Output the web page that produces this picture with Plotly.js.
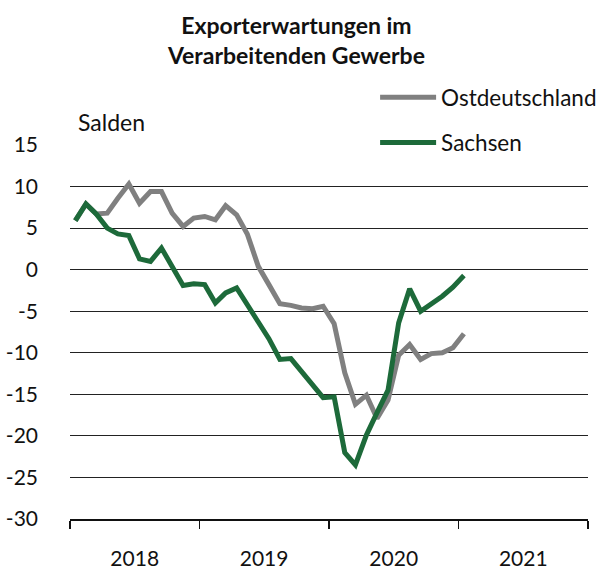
<!DOCTYPE html>
<html>
<head>
<meta charset="utf-8">
<script src="https://cdn.plot.ly/plotly-3.0.1.min.js"></script>
<style>
  html, body { margin: 0; padding: 0; background: #fff; }
  #chart { width: 605px; height: 569px; }
</style>
</head>
<body>
<div id="chart"></div>
<script>
// Monthly survey results (balances), Jan 2018 – Jan 2021
const months = [
  '2018-01-16','2018-02-15','2018-03-16','2018-04-16','2018-05-16','2018-06-16',
  '2018-07-16','2018-08-16','2018-09-16','2018-10-16','2018-11-16','2018-12-16',
  '2019-01-16','2019-02-15','2019-03-16','2019-04-16','2019-05-16','2019-06-16',
  '2019-07-16','2019-08-16','2019-09-16','2019-10-16','2019-11-16','2019-12-16',
  '2020-01-16','2020-02-15','2020-03-16','2020-04-16','2020-05-16','2020-06-16',
  '2020-07-16','2020-08-16','2020-09-16','2020-10-16','2020-11-16','2020-12-16',
  '2021-01-16'
];
const ostdeutschland = [
  5.9, 7.9, 6.7, 6.8, 8.6, 10.3, 8.0, 9.4, 9.4, 6.8, 5.2, 6.2,
  6.4, 6.0, 7.7, 6.6, 4.3, 0.4, -1.8, -4.1, -4.3, -4.6, -4.7, -4.4,
  -6.5, -12.4, -16.2, -15.1, -17.9, -15.7, -10.3, -9.0, -10.8, -10.1, -10.0, -9.4,
  -7.7
];
const sachsen = [
  5.9, 7.9, 6.7, 5.0, 4.3, 4.1, 1.3, 1.0, 2.6, 0.5, -1.9, -1.7,
  -1.8, -4.0, -2.8, -2.2, -4.1, -6.3, -8.3, -10.8, -10.7, -12.2, -13.7, -15.4,
  -15.3, -22.0, -23.5, -19.9, -17.2, -14.5, -6.4, -2.3, -5.0, -4.1, -3.2, -2.1,
  -0.7
];
const seriesNames = ['Ostdeutschland', 'Sachsen'];
const yTicks = [15, 10, 5, 0, -5, -10, -15, -20, -25, -30];
const yTickText = ['15', '10', '5', '0', '-5', '-10', '-15', '-20', '-25', '-30'];
const xRange = ['2018-01-01', '2022-01-01'];

const FONT = 'Lato, "Noto Sans", sans-serif';

const traces = [
  {
    x: months, y: ostdeutschland, name: seriesNames[0], type: 'scatter', mode: 'lines',
    line: { color: '#808080', width: 5 }, legendgroup: 'a'
  },
  {
    x: months, y: sachsen, name: seriesNames[1], type: 'scatter', mode: 'lines',
    line: { color: '#1d6a3a', width: 5 }, legendgroup: 'b'
  }
];

const layout = {
  width: 605, height: 569,
  margin: { l: 70, r: 17, t: 145, b: 50, autoexpand: false },
  paper_bgcolor: '#fff', plot_bgcolor: '#fff',
  font: { family: FONT, size: 21, color: '#111' },
  title: {
    text: '<b>Exporterwartungen im<br>Verarbeitenden Gewerbe</b>',
    font: { family: FONT, size: 23, color: '#111' },
    x: 0.49, xref: 'container', xanchor: 'center',
    y: 0.94, yref: 'container', yanchor: 'top'
  },
  xaxis: {
    type: 'date', range: xRange,
    tick0: '2018-01-01', dtick: 'M12', tickformat: '%Y',
    ticklabelmode: 'period',
    ticks: 'outside', ticklen: 8, tickwidth: 1.5, tickcolor: '#111',
    showline: true, linecolor: '#111', linewidth: 1.5,
    showgrid: false, zeroline: false,
    ticklabelstandoff: 12,
    tickfont: { family: FONT, size: 21, color: '#111' }
  },
  yaxis: {
    range: [-30, 15], tickvals: yTicks, ticktext: yTickText,
    showgrid: true, gridcolor: '#222', gridwidth: 1,
    zeroline: false, showline: false, ticks: '',
    ticklabelstandoff: 31,
    tickfont: { family: FONT, size: 21, color: '#111' }
  },
  showlegend: true,
  legend: {
    x: 0.62, xref: 'container', xanchor: 'left',
    y: 0.866, yref: 'container', yanchor: 'top',
    bgcolor: 'rgba(0,0,0,0)', borderwidth: 0,
    itemwidth: 56, tracegroupgap: 13,
    font: { family: FONT, size: 22.5, color: '#111' }
  },
  shapes: [
    {
      type: 'rect', xref: 'paper', yref: 'y', layer: 'above',
      x0: 0.5, x1: 1.02, y0: 14.5, y1: 15.5,
      fillcolor: '#fff', line: { width: 0 }
    }
  ],
  annotations: [
    {
      text: 'Salden', xref: 'paper', yref: 'y', x: 0.012, y: 15,
      xanchor: 'left', yanchor: 'bottom', yshift: 7, showarrow: false,
      font: { family: FONT, size: 23, color: '#111' }
    }
  ]
};

Plotly.newPlot('chart', traces, layout, { displayModeBar: false, staticPlot: true });
</script>
</body>
</html>
